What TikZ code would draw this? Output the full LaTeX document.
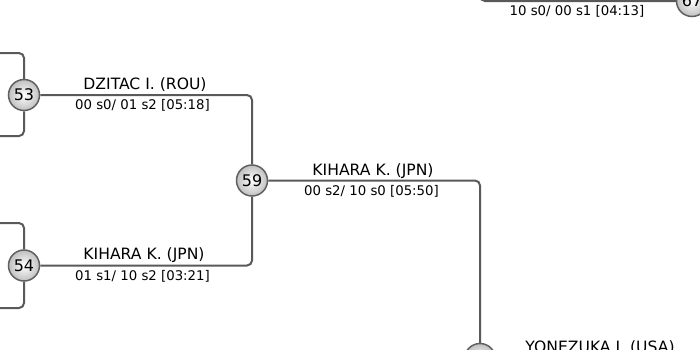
\documentclass[tikz,border=0pt]{standalone}
\usepackage{fontspec}
\setmainfont{DejaVu Sans}
\usetikzlibrary{positioning}
\usetikzlibrary{calc}
\definecolor{wiregray}{HTML}{595959}
\definecolor{rimgray}{HTML}{606060}

\begin{document}
\begin{tikzpicture}[x=1pt,y=-1pt,
    match/.style={circle,draw=rimgray,line width=1.5pt,minimum size=31pt,inner sep=0pt,
        inner color=white,outer color=black!25,font=\fontsize{16}{16}\selectfont},
    wire/.style={draw=wiregray,line width=2pt,rounded corners=5pt},
    player/.style={anchor=base,inner sep=0pt,font=\fontsize{15.6}{18}\selectfont},
    score/.style={anchor=base,inner sep=0pt,font=\fontsize{13.3}{15}\selectfont}]
    \useasboundingbox (0,0) rectangle (700,349);
    \clip (0,0) rectangle (700,349);

    % feeders coming in from outside the frame
    \coordinate (a53) at (-20, 53);
    \coordinate (b53) at (-20,136);
    \coordinate (a54) at (-20,223);
    \coordinate (b54) at (-20,308);
    \coordinate (t67) at (480,-40);

    \node[match] (m53) at ( 24, 95)   {53};
    \node[match] (m54) at ( 24,265.5) {54};
    \node[match] (m59) at (252,180.5) {59};
    \node[match] (m63) at (480,359)   {};
    \node[match] (m67) at (692,  1)   {67};

    \draw[wire] (a53) -| (m53);
    \draw[wire] (b53) -| (m53);
    \draw[wire] (a54) -| (m54);
    \draw[wire] (b54) -| (m54);

    \draw[wire] (m53) -| (m59);
    \draw[wire] (m54) -| (m59);
    \draw[wire] (m59) -| (m63);
    \draw[wire] (t67) |- (m67);

    % winners and results
    \node[player] (p53) at (145, 89)    {DZITAC I. (ROU)};
    \node[score]  (s53) at (142.5,109.5) {00 s0/ 01 s2 [05:18]};
    \node[player] (p54) at (144,259.5)  {KIHARA K. (JPN)};
    \node[score]  (s54) at (142.5,280)  {01 s1/ 10 s2 [03:21]};
    \node[player] (p59) at (373,175)    {KIHARA K. (JPN)};
    \node[score]  (s59) at (371.5,195.5) {00 s2/ 10 s0 [05:50]};
    \node[score]  (s67) at (577, 15)    {10 s0/ 00 s1 [04:13]};
    \node[player] (p63) at (600,352.5)  {YONEZUKA I. (USA)};
\end{tikzpicture}
\end{document}
